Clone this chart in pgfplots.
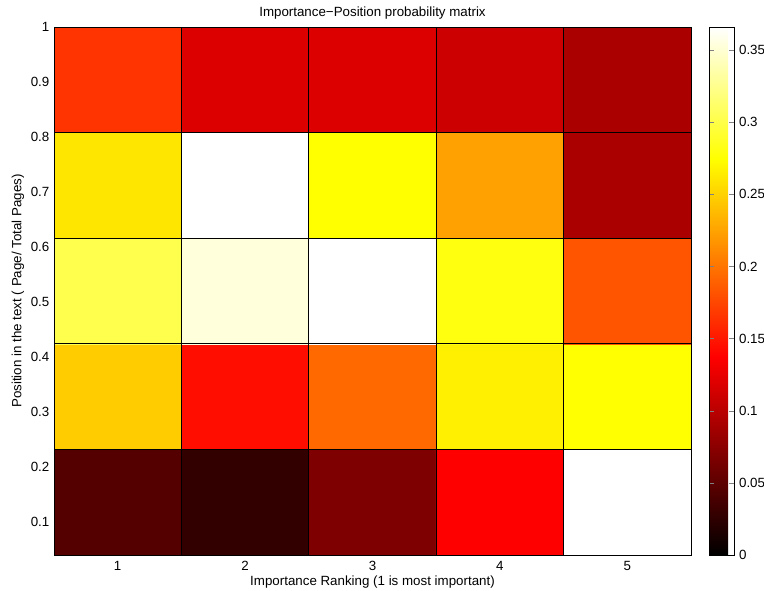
\documentclass[border=0pt]{standalone}
\usepackage{pgfplots}
\usepackage{pgfplotstable}
\pgfplotsset{compat=1.18}
\usepackage{fontspec}
\setmainfont{Liberation Sans}

\pgfplotstableread{
x y c
1 0.136 0.0457
2 0.136 0.0275
3 0.136 0.0686
4 0.136 0.137
5 0.136 0.366
1 0.328 0.247
2 0.328 0.145
3 0.328 0.194
4 0.328 0.266
5 0.328 0.275
1 0.520 0.302
2 0.520 0.353
3 0.520 0.366
4 0.520 0.280
5 0.520 0.183
1 0.712 0.261
2 0.712 0.366
3 0.712 0.2745
4 0.712 0.224
5 0.712 0.0915
1 0.904 0.165
2 0.904 0.119
3 0.904 0.119
4 0.904 0.110
5 0.904 0.0915
}\datatable

\pgfplotsset{/pgf/number format/assume math mode=true}

\begin{document}
\begin{tikzpicture}
\path[use as bounding box] (-40.5pt,-26.25pt) rectangle (532.5pt,416.25pt);
\begin{axis}[
  at={(0,0)}, anchor=south west,
  scale only axis, width=477.75pt, height=396pt,
  xmin=0.5, xmax=5.5, ymin=0.04, ymax=1,
  xtick={1,2,3,4,5},
  ytick={0.1,0.2,0.3,0.4,0.5,0.6,0.7,0.8,0.9,1},
  yticklabels={0.1,0.2,0.3,0.4,0.5,0.6,0.7,0.8,0.9,1},
  major tick length=0pt,
  minor xtick={1.5,2.5,3.5,4.5},
  minor ytick={0.232,0.424,0.616,0.808},
  minor tick length=0pt,
  xminorgrids, yminorgrids,
  minor grid style={black, line width=0.6pt, solid},
  axis on top,
  axis line style={black, line width=0.6pt},
  tick label style={font=\fontsize{10}{12}\selectfont},
  every axis title shift=0pt,
  every axis title/.style={at={(axis description cs:0.5,1)}, anchor=center, yshift=10.5pt, font=\fontsize{10}{12}\selectfont},
  title={Importance−Position probability matrix},
  xlabel={Importance Ranking (1 is most important)},
  ylabel={Position in the text ( Page/ Total Pages)},
  every axis x label/.style={at={(axis description cs:0.5,-0.052)}, anchor=center, font=\fontsize{10}{12}\selectfont},
  every axis y label/.style={at={(axis description cs:-0.0565,0.5)}, anchor=center, rotate=90, font=\fontsize{10}{12}\selectfont},
  xticklabel style={anchor=center, yshift=-8.5pt},
  colormap={hotmat}{rgb(0cm)=(0,0,0); rgb(3cm)=(1,0,0); rgb(6cm)=(1,1,0); rgb(8cm)=(1,1,1)},
  point meta min=0, point meta max=0.366,
  colorbar,
  colorbar style={
    at={(parent axis.north east)}, anchor=north west, xshift=5pt,
    width=19pt,
    ytick={0,0.05,0.1,0.15,0.2,0.25,0.3,0.35},
    yticklabels={0,0.05,0.1,0.15,0.2,0.25,0.3,0.35},
    ytick align=inside, ytick pos=both, yticklabel pos=right,
    major tick length=3.75pt,
    scaled y ticks=false,
    axis line style={black, line width=0.6pt},
    yticklabel style={font=\fontsize{10}{12}\selectfont},
  },
]
\addplot[matrix plot*, mesh/cols=5, point meta=explicit] table[x=x, y=y, meta=c] {\datatable};
\end{axis}
\end{tikzpicture}
\end{document}
